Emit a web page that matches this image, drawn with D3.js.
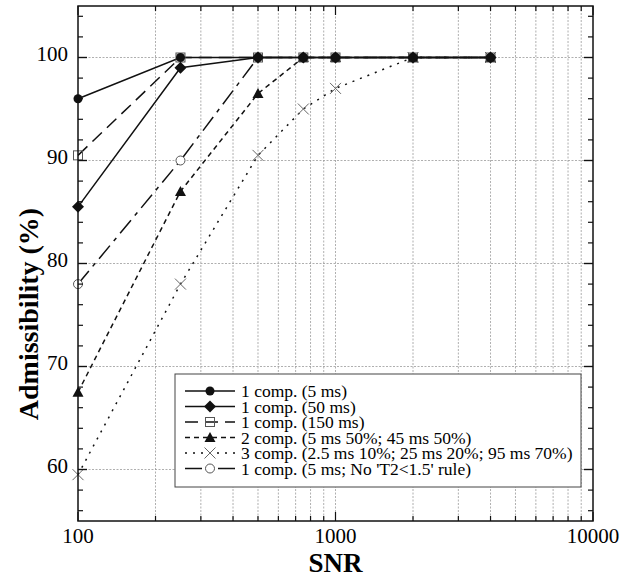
<!DOCTYPE html>
<html>
<head>
<meta charset="utf-8">
<script src="https://cdn.jsdelivr.net/npm/d3@7"></script>
<style>
  body { margin: 0; background: #fff; }
  #chart { width: 624px; height: 578px; }
</style>
</head>
<body>
<div id="chart"></div>
<script>
// SNR values where the admissibility was measured
const snr = [100, 250, 500, 750, 1000, 2000, 4000]

// admissibility (%) per simulated case
const comp1_5ms   = [96, 100, 100, 100, 100, 100, 100]
const comp1_50ms  = [85.5, 99, 100, 100, 100, 100, 100]
const comp1_150ms = [90.5, 100, 100, 100, 100, 100, 100]
const comp2       = [67.5, 87, 96.5, 100, 100, 100, 100]
const comp3       = [59.5, 78, 90.5, 95, 97, 100, 100]
const comp1_norule = [78, 90, 100, 100, 100, 100, 100]

const seriesNames = [
  "1 comp. (5 ms)",
  "1 comp. (50 ms)",
  "1 comp. (150 ms)",
  "2 comp. (5 ms 50%; 45 ms 50%)",
  "3 comp. (2.5 ms 10%; 25 ms 20%; 95 ms 70%)",
  "1 comp. (5 ms; No 'T2<1.5' rule)"
]

const xTickLabels = [100, 1000, 10000]
const yTickLabels = [60, 70, 80, 90, 100]

const width = 624, height = 578
const margin = {top: 6, right: 31, bottom: 57, left: 78}
const innerWidth = width - margin.left - margin.right
const innerHeight = height - margin.top - margin.bottom
const serif = '"Liberation Serif", "Times New Roman", Times, "DejaVu Serif", serif'

const svg = d3.select('#chart').append('svg')
    .attr('width', width).attr('height', height)
    .attr('font-family', serif)
const g = svg.append('g').attr('transform', `translate(${margin.left}, ${margin.top})`)

const x = d3.scaleLog().domain([100, 10000]).range([0, innerWidth])
const y = d3.scaleLinear().domain([55, 105]).range([innerHeight, 0])

// every log position between the decades
const logTicks = x.ticks()
const yMinor = d3.range(56, 105, 2)

// grid
g.append('g').selectAll('line')
    .data(logTicks.filter(d => d > 100 && d < 10000))
    .join('line')
    .attr('x1', d => x(d)).attr('x2', d => x(d))
    .attr('y1', 0).attr('y2', innerHeight)
    .attr('stroke', '#9a9a9a').attr('stroke-width', 0.8)
    .attr('stroke-dasharray', '2,1.5')
g.append('g').selectAll('line')
    .data(yTickLabels)
    .join('line')
    .attr('x1', 0).attr('x2', innerWidth)
    .attr('y1', d => y(d)).attr('y2', d => y(d))
    .attr('stroke', '#9a9a9a').attr('stroke-width', 0.8)
    .attr('stroke-dasharray', '2,1.5')

const series = [
  {name: seriesNames[0], values: comp1_5ms, dash: null, marker: 'circle'},
  {name: seriesNames[1], values: comp1_50ms, dash: null, marker: 'diamond'},
  {name: seriesNames[2], values: comp1_150ms, dash: '13,7', marker: 'square'},
  {name: seriesNames[3], values: comp2, dash: '5,4', marker: 'triangle'},
  {name: seriesNames[4], values: comp3, dash: '2,6', marker: 'cross'},
  {name: seriesNames[5], values: comp1_norule, dash: '17,6,4,6', marker: 'open'}
]

const line = d3.line().x(d => x(d[0])).y(d => y(d[1]))

// lines drawn back to front
series.slice().reverse().forEach(s => {
    g.append('path')
        .datum(snr.map((v, i) => [v, s.values[i]]))
        .attr('d', line)
        .attr('fill', 'none')
        .attr('stroke', '#111')
        .attr('stroke-width', 1.5)
        .attr('stroke-dasharray', s.dash)
})

function drawMarker(sel, type) {
    if (type == 'circle') {
        sel.append('circle').attr('r', 4.5).attr('fill', '#111')
    } else if (type == 'diamond') {
        sel.append('path').attr('d', 'M0,-6L6,0L0,6L-6,0Z').attr('fill', '#111')
    } else if (type == 'square') {
        sel.append('rect').attr('x', -4.5).attr('y', -4.5).attr('width', 9).attr('height', 9)
            .attr('fill', 'none').attr('stroke', '#555').attr('stroke-width', 1)
    } else if (type == 'triangle') {
        sel.append('path').attr('d', 'M0,-5.5L5.5,4.5L-5.5,4.5Z').attr('fill', '#111')
    } else if (type == 'cross') {
        sel.append('path').attr('d', 'M-5.5,-5.5L5.5,5.5M-5.5,5.5L5.5,-5.5')
            .attr('stroke', '#666').attr('stroke-width', 1)
    } else if (type == 'open') {
        sel.append('circle').attr('r', 4.5).attr('fill', '#fff')
            .attr('stroke', '#555').attr('stroke-width', 1)
    }
}

series.slice().reverse().forEach(s => {
    snr.forEach((v, i) => {
        const m = g.append('g').attr('transform', `translate(${x(v)}, ${y(s.values[i])})`)
        drawMarker(m, s.marker)
    })
})

// frame and inward ticks on all four sides
g.append('rect').attr('width', innerWidth).attr('height', innerHeight)
    .attr('fill', 'none').attr('stroke', '#111').attr('stroke-width', 1.5)

const tickLen = d => xTickLabels.includes(d) ? 9 : 5
g.append('g').selectAll('line').data(logTicks).join('line')
    .attr('x1', d => x(d)).attr('x2', d => x(d))
    .attr('y1', innerHeight).attr('y2', d => innerHeight - tickLen(d))
    .attr('stroke', '#111').attr('stroke-width', 1.2)
g.append('g').selectAll('line').data(logTicks).join('line')
    .attr('x1', d => x(d)).attr('x2', d => x(d))
    .attr('y1', 0).attr('y2', d => tickLen(d))
    .attr('stroke', '#111').attr('stroke-width', 1.2)

const yLen = d => yTickLabels.includes(d) ? 9 : 5
g.append('g').selectAll('line').data(yMinor.concat(yTickLabels)).join('line')
    .attr('x1', 0).attr('x2', d => yLen(d))
    .attr('y1', d => y(d)).attr('y2', d => y(d))
    .attr('stroke', '#111').attr('stroke-width', 1.2)
g.append('g').selectAll('line').data(yMinor.concat(yTickLabels)).join('line')
    .attr('x1', innerWidth).attr('x2', d => innerWidth - yLen(d))
    .attr('y1', d => y(d)).attr('y2', d => y(d))
    .attr('stroke', '#111').attr('stroke-width', 1.2)

// tick labels
g.append('g').selectAll('text').data(xTickLabels).join('text')
    .attr('x', d => x(d)).attr('y', innerHeight + 22)
    .attr('text-anchor', 'middle')
    .attr('font-family', serif)
    .style('font-size', '21px')
    .text(d => d)
g.append('g').selectAll('text').data(yTickLabels).join('text')
    .attr('x', -10).attr('y', d => y(d) + 3)
    .attr('text-anchor', 'end')
    .attr('font-family', serif)
    .style('font-size', '21px')
    .text(d => d)

// axis titles
svg.append('text')
    .attr('x', margin.left + innerWidth / 2).attr('y', 572)
    .attr('text-anchor', 'middle')
    .attr('font-family', serif)
    .style('font-size', '27px').style('font-weight', 'bold')
    .text('SNR')
svg.append('text')
    .attr('transform', 'translate(38, 314) rotate(-90)')
    .attr('text-anchor', 'middle')
    .attr('font-family', serif)
    .style('font-size', '28px').style('font-weight', 'bold')
    .text('Admissibility (%)')

// legend
const legend = svg.append('g').attr('transform', 'translate(175, 374)')
legend.append('rect').attr('width', 406).attr('height', 113)
    .attr('fill', '#fff').attr('stroke', '#444').attr('stroke-width', 1)
series.forEach((s, i) => {
    const row = legend.append('g').attr('transform', `translate(0, ${17 + i * 15.5})`)
    row.append('line').attr('x1', 10).attr('x2', 60)
        .attr('stroke', '#111').attr('stroke-width', 1.5)
        .attr('stroke-dasharray', s.dash)
    drawMarker(row.append('g').attr('transform', 'translate(35, 0)'), s.marker)
    row.append('text').attr('x', 66).attr('y', 6)
        .attr('font-family', serif)
        .style('font-size', '17.5px')
        .text(s.name)
})
</script>
</body>
</html>
